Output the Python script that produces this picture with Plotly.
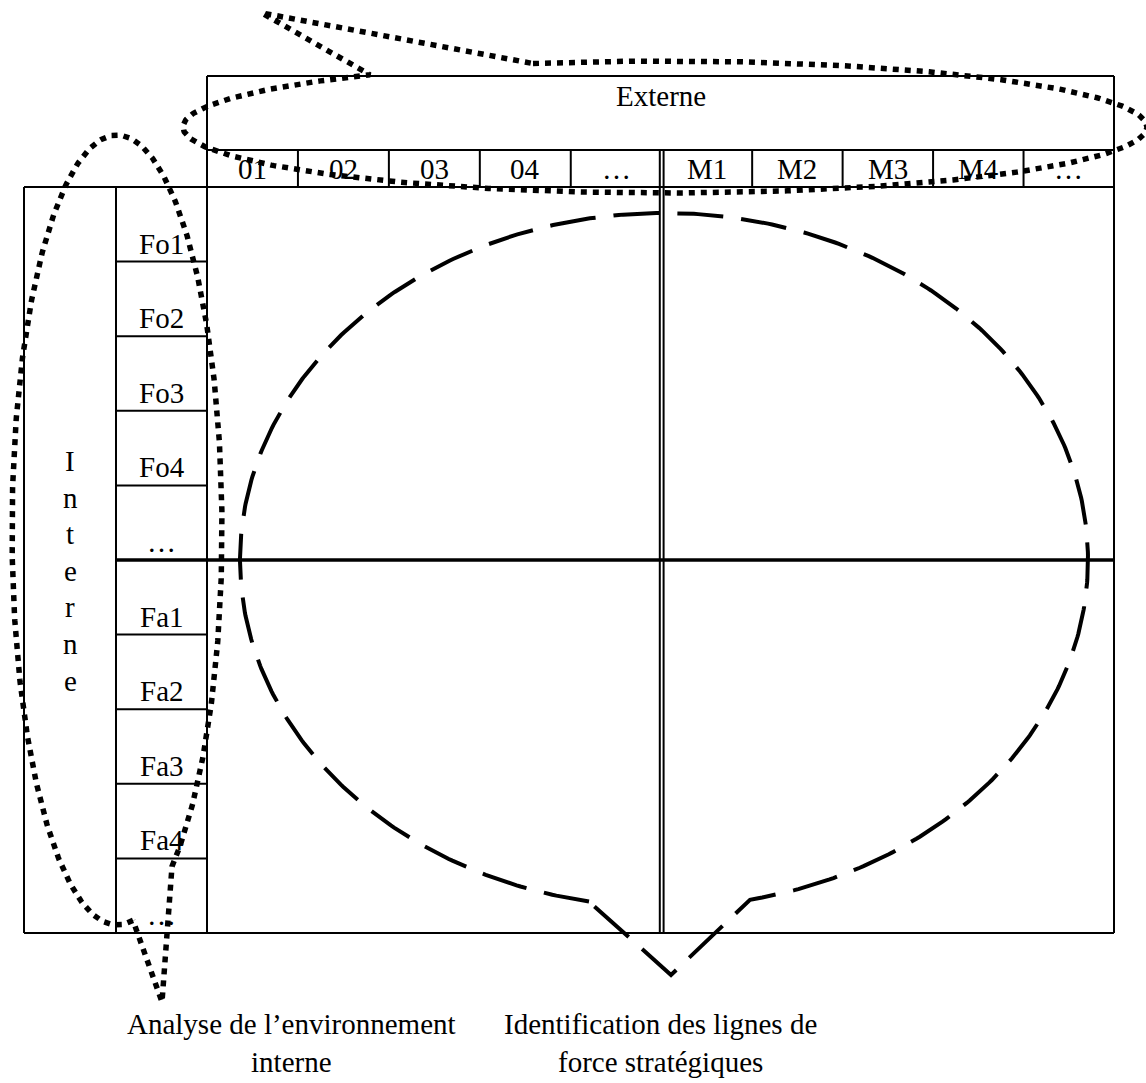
import numpy as np
import plotly.graph_objects as go

# ---------------- data (texts of the diagram) ----------------
header_title = "Externe"
col_labels_left = ["01", "02", "03", "04", "…"]
col_labels_right = ["M1", "M2", "M3", "M4", "…"]
row_labels_top = ["Fo1", "Fo2", "Fo3", "Fo4", "…"]
row_labels_bottom = ["Fa1", "Fa2", "Fa3", "Fa4", "…"]
side_title = "Interne"
caption_left = ["Analyse de l’environnement", "interne"]
caption_right = ["Identification des lignes de", "force stratégiques"]

# ---------------- geometry (pixels) ----------------
W, H = 1146, 1083
X0, X1, X2, X3 = 24, 116, 207, 1114
XM = 661.7
YT0, YT1, YT2, YB = 76, 150, 187, 933
FONT = dict(family="Liberation Serif, Times New Roman, serif", size=29, color="black")

col_edges = np.concatenate([np.linspace(X2, XM, len(col_labels_left) + 1),
                            np.linspace(XM, X3, len(col_labels_right) + 1)[1:]])
row_edges = np.linspace(YT2, YB, len(row_labels_top) + len(row_labels_bottom) + 1)

fig = go.Figure()
shapes = []


def line(x0, y0, x1, y1, w=2):
    shapes.append(dict(type="line", x0=x0, y0=y0, x1=x1, y1=y1, xref="x", yref="y",
                       line=dict(color="black", width=w), layer="below"))


# top header box
line(X2, YT0, X3, YT0); line(X2, YT1, X3, YT1); line(X2, YT2, X3, YT2)
line(X2, YT0, X2, YT2); line(X3, YT0, X3, YT2)
for x in col_edges[1:-1]:
    if abs(x - XM) < 1:
        continue
    line(x, YT1, x, YT2)
# main box
line(X0, YT2, X3, YT2); line(X0, YB, X3, YB)
line(X0, YT2, X0, YB); line(X1, YT2, X1, YB); line(X2, YT2, X2, YB); line(X3, YT2, X3, YB)
for k, y in enumerate(row_edges[1:-1]):
    if k + 1 == len(row_labels_top):
        line(X1, y, X3, y, 3.5)
    else:
        line(X1, y, X2, y)
# double middle line
line(XM - 1.9, YT1, XM - 1.9, YB, 2)
line(XM + 1.9, YT1, XM + 1.9, YB, 2)

annotations = []


def text(s, x, y):
    annotations.append(dict(text=s, x=x, y=y, xref="x", yref="y", showarrow=False,
                            xanchor="center", yanchor="middle", font=FONT))


text(header_title, (X2 + X3) / 2, 96)
for lab, a, b in zip(col_labels_left + col_labels_right, col_edges[:-1], col_edges[1:]):
    text(lab, (a + b) / 2, 169)
for lab, yb in zip(row_labels_top + row_labels_bottom, row_edges[1:]):
    text(lab, (X1 + X2) / 2, yb - 18)
for i, ch in enumerate(side_title):
    text(ch, (X0 + X1) / 2, 461 + 36.6 * i)
text("<br>".join(caption_left), 291, 1043)
text("<br>".join(caption_right), 660, 1043)


def arc(cx, cy, rx, ry, t0, t1, n=600):
    t = np.linspace(t0, t1, n)
    return list(cx + rx * np.cos(t)), list(cy + ry * np.sin(t))


def bubble(cx, cy, rx, ry, xa, xb, tip, bottom=True):
    ta = np.arccos((xa - cx) / rx)
    tb = np.arccos((xb - cx) / rx)
    if not bottom:
        ta, tb = -ta, -tb
    while tb <= ta:
        tb += 2 * np.pi
    xs, ys = arc(cx, cy, rx, ry, ta, tb)
    xs += [tip[0], xs[0]]
    ys += [tip[1], ys[0]]
    return xs, ys


dot = dict(color="black", width=5.5, dash="6px,6px")
# Externe bubble
xs, ys = bubble(665, 127, 482, 66, 533, 370, (262, 13), bottom=False)
fig.add_trace(go.Scatter(x=xs, y=ys, mode="lines", line=dot, hoverinfo="skip"))
# Interne bubble (vertical)
ta = np.arccos((133 - 117) / 105)
tb = np.arccos((172 - 117) / 105) + 2 * np.pi
xs, ys = arc(117, 530, 105, 395, ta, tb)
xs += [162, xs[0]]
ys += [1002, ys[0]]
fig.add_trace(go.Scatter(x=xs, y=ys, mode="lines", line=dot, hoverinfo="skip"))
# big dashed bubble
xs, ys = bubble(664, 560, 424, 347, 589, 750, (671, 975), bottom=True)
fig.add_trace(go.Scatter(x=xs, y=ys, mode="lines",
                         line=dict(color="black", width=4, dash="46px,18px"), hoverinfo="skip"))

fig.update_layout(
    width=W, height=H, autosize=False,
    margin=dict(l=0, r=0, t=0, b=0),
    paper_bgcolor="white", plot_bgcolor="white",
    showlegend=False,
    shapes=shapes, annotations=annotations,
    xaxis=dict(range=[0, W], visible=False, fixedrange=True),
    yaxis=dict(range=[H, 0], visible=False, fixedrange=True),
)
fig.write_html("out.html", config={"displayModeBar": False},
               post_script="document.body.style.margin='0';")
